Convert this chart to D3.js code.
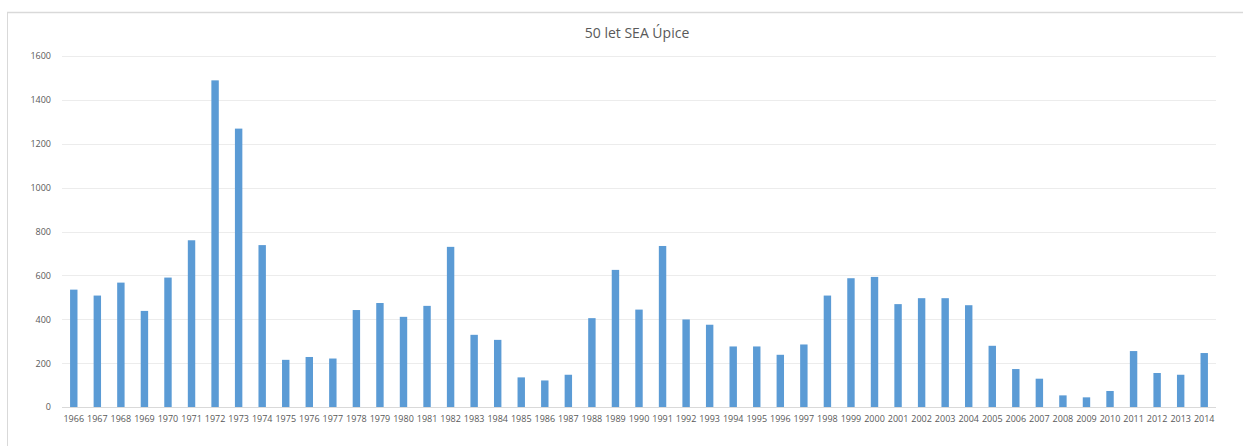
<!DOCTYPE html>
<html>
<head>
<meta charset="utf-8">
<script src="https://cdn.jsdelivr.net/npm/d3@7"></script>
<style>
  body { margin: 0; background: #fff; }
  text { font-family: "Open Sans", "Liberation Sans", sans-serif; }
</style>
</head>
<body>
<div id="graphic"></div>
<script>
// chart data
const years = ["1966", "1967", "1968", "1969", "1970", "1971", "1972", "1973", "1974", "1975",
  "1976", "1977", "1978", "1979", "1980", "1981", "1982", "1983", "1984", "1985",
  "1986", "1987", "1988", "1989", "1990", "1991", "1992", "1993", "1994", "1995",
  "1996", "1997", "1998", "1999", "2000", "2001", "2002", "2003", "2004", "2005",
  "2006", "2007", "2008", "2009", "2010", "2011", "2012", "2013", "2014"];
const values = [535, 508, 567, 438, 590, 760, 1489, 1269, 738, 215,
  228, 221, 442, 474, 411, 461, 730, 329, 306, 135,
  121, 147, 405, 625, 444, 734, 399, 375, 276, 276,
  238, 285, 508, 587, 593, 469, 496, 496, 464, 279,
  173, 129, 53, 44, 73, 255, 155, 147, 246];
const yTicks = [0, 200, 400, 600, 800, 1000, 1200, 1400, 1600];
const title = "50 let SEA Úpice";

const W = 1243, H = 446;
const margin = { top: 56, right: 27, bottom: 39, left: 62 };
const width = W - margin.left - margin.right;
const height = H - margin.top - margin.bottom;

const svg = d3.select("#graphic").append("svg")
  .attr("width", W)
  .attr("height", H);

// chart frame (top and left edges visible)
svg.append("line").attr("x1", 7).attr("x2", W).attr("y1", 12.5).attr("y2", 12.5)
  .attr("stroke", "#d9d9d9").attr("stroke-width", 1.5);
svg.append("line").attr("x1", 7.5).attr("x2", 7.5).attr("y1", 12).attr("y2", H)
  .attr("stroke", "#d9d9d9");

svg.append("text")
  .attr("x", 637)
  .attr("y", 38)
  .attr("text-anchor", "middle")
  .attr("font-size", 14)
  .attr("fill", "#595959")
  .text(title);

const g = svg.append("g")
  .attr("transform", "translate(" + margin.left + "," + margin.top + ")");

const x = d3.scaleBand()
  .domain(years)
  .range([0, width])
  .paddingInner(0.685)
  .paddingOuter(0.3425);

const y = d3.scaleLinear()
  .domain([0, 1600])
  .range([height, 0]);

// gridlines
g.selectAll(".grid")
  .data(yTicks)
  .enter().append("line")
  .attr("class", "grid")
  .attr("x1", 0)
  .attr("x2", width)
  .attr("y1", d => Math.round(y(d)) + 0.5)
  .attr("y2", d => Math.round(y(d)) + 0.5)
  .attr("stroke", d => d === 0 ? "#d9d9d9" : "#ececec")
  .attr("stroke-width", 1);

// bars
g.selectAll(".bar")
  .data(values)
  .enter().append("rect")
  .attr("class", "bar")
  .attr("x", (d, i) => x(years[i]))
  .attr("y", d => y(d))
  .attr("width", x.bandwidth())
  .attr("height", d => y(0) - y(d))
  .attr("fill", "#5b9bd5");

// y axis
const yAxis = g.append("g")
  .call(d3.axisLeft(y).tickValues(yTicks).tickFormat(d3.format("d")).tickSize(0).tickPadding(11));
yAxis.select(".domain").remove();
yAxis.selectAll("text").attr("font-size", 9).attr("fill", "#595959")
  .style("font-family", "'Open Sans', 'Liberation Sans', sans-serif");

// x axis
const xAxis = g.append("g")
  .attr("transform", "translate(0," + height + ")")
  .call(d3.axisBottom(x).tickSize(0).tickPadding(9));
xAxis.select(".domain").remove();
xAxis.selectAll("text").attr("font-size", 9).attr("fill", "#595959")
  .style("font-family", "'Open Sans', 'Liberation Sans', sans-serif");
</script>
</body>
</html>
